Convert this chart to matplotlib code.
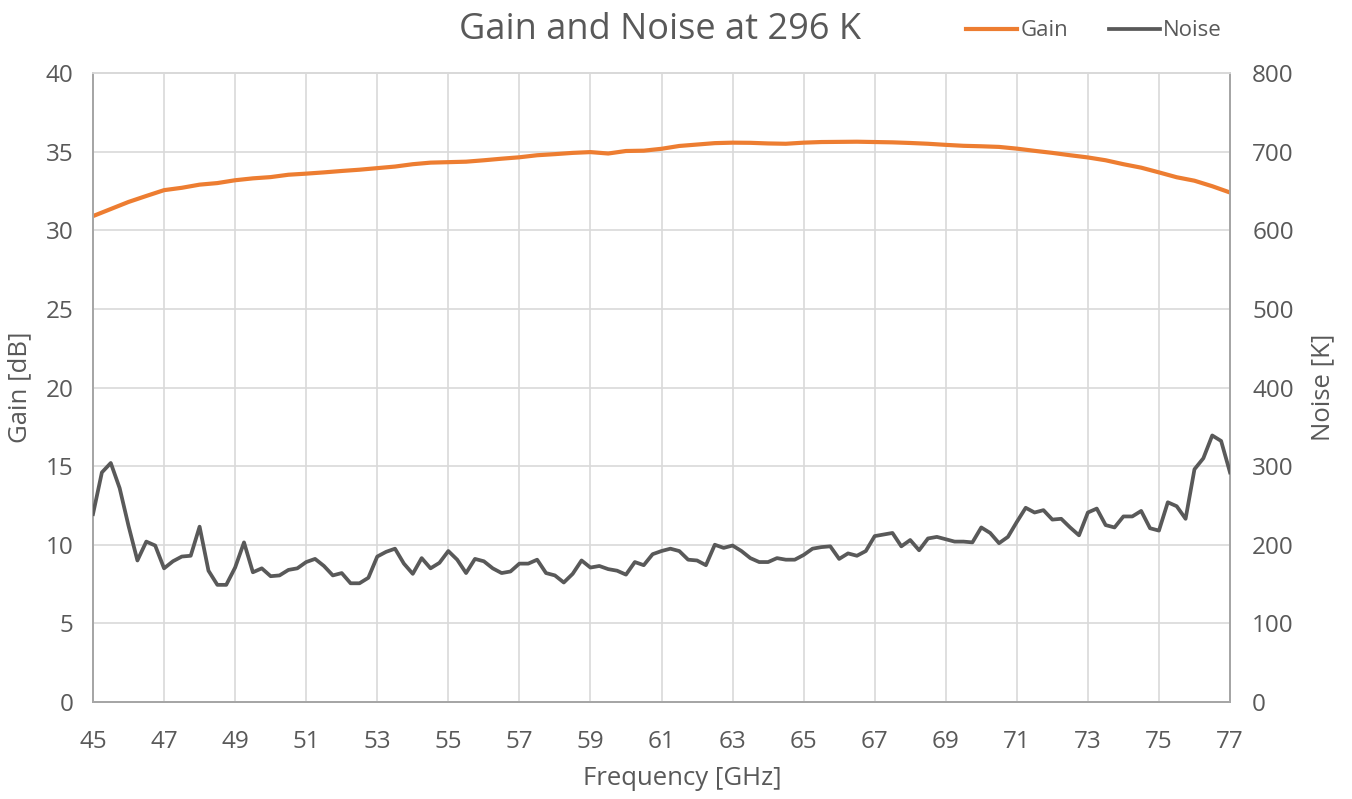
import numpy as np
import matplotlib
matplotlib.use("Agg")
import matplotlib.pyplot as plt

# --- data ---
gain_freq = np.arange(45.0, 77.01, 0.5)
gain_db = [30.9, 31.35, 31.8, 32.18, 32.55, 32.7, 32.9, 33.0, 33.18, 33.3,
           33.38, 33.53, 33.6, 33.68, 33.77, 33.85, 33.95, 34.05, 34.2, 34.3,
           34.33, 34.36, 34.45, 34.55, 34.64, 34.77, 34.84, 34.92, 34.97, 34.88,
           35.04, 35.06, 35.18, 35.36, 35.45, 35.54, 35.57, 35.56, 35.52, 35.5,
           35.57, 35.61, 35.62, 35.63, 35.61, 35.59, 35.55, 35.5, 35.43, 35.37,
           35.34, 35.3, 35.19, 35.05, 34.92, 34.77, 34.63, 34.45, 34.2, 33.98,
           33.68, 33.37, 33.15, 32.8, 32.4]

noise_freq = np.arange(45.0, 77.01, 0.25)
noise_k = [239, 292, 304, 272, 224, 180, 204, 199, 170, 179, 185, 186, 223,
           167, 149, 149, 171, 203, 165, 170, 160, 161, 168, 170, 178, 182,
           173, 161, 164, 151, 151, 158, 185,
           191, 195, 176, 163, 183, 170, 177, 192, 181, 164, 182, 179, 170,
           164, 166, 176, 176, 181, 164, 161, 152, 163, 180, 171, 173, 169,
           167, 162, 178, 174, 188, 192,
           195, 192, 181, 180, 174, 200, 196, 199, 192, 183, 178, 178, 183,
           181, 181, 187, 195, 197, 198, 182, 189, 186, 192, 211, 213, 215,
           198, 206, 193, 208, 210, 207, 204,
           204, 203, 222, 215, 202, 210, 229, 247, 241, 244, 232, 233, 222,
           212, 241, 246, 225, 222, 236, 236, 243, 221, 218, 254, 249, 233,
           296, 310, 339, 332, 292]

x_ticks = np.arange(45, 78, 2)

TXT = "#595959"
plt.rcParams["font.family"] = ["Open Sans", "DejaVu Sans"]

fig = plt.figure(figsize=(13.52, 7.99), dpi=100)
ax = fig.add_axes([93 / 1352, 1 - 702 / 799, (1230 - 93) / 1352, (702 - 73) / 799])
ax2 = ax.twinx()

g_line, = ax.plot(gain_freq, gain_db, color="#ED7D31", lw=3.0, label="Gain", zorder=3)
n_line, = ax2.plot(noise_freq, noise_k, color="#595959", lw=2.7, label="Noise", zorder=3)

ax.set_xlim(45, 77)
ax.set_ylim(0, 40)
ax2.set_ylim(0, 800)
ax.set_xticks(x_ticks)
ax.set_yticks(np.arange(0, 41, 5))
ax2.set_yticks(np.arange(0, 801, 100))

ax.grid(True, color="#D9D9D9", lw=1.2)
ax.set_axisbelow(True)
for a in (ax, ax2):
    for s in a.spines.values():
        s.set_color("#A6A6A6")
        s.set_linewidth(1.3)
    a.spines["top"].set_color("#D9D9D9")
    a.tick_params(length=0, labelsize=17.5, colors=TXT)
ax.tick_params(axis="x", pad=20)
ax.tick_params(axis="y", pad=14)
ax2.tick_params(axis="y", pad=16)

ax.set_xlabel("Frequency [GHz]", fontsize=18.5, color=TXT)
ax.xaxis.set_label_coords((682 - 93) / 1137, -64 / 629)
ax.set_ylabel("Gain [dB]", fontsize=18.5, color=TXT, labelpad=10)
ax2.set_ylabel("Noise [K]", fontsize=18.5, color=TXT, labelpad=12)

fig.text(660 / 1352, 1 - 30 / 799, "Gain and Noise at 296 K", fontsize=26,
         color=TXT, ha="center", va="center")
fig.legend(handles=[g_line, n_line], loc="center", bbox_to_anchor=(1094 / 1352, 1 - 31 / 799),
           ncol=2, frameon=False, fontsize=16, labelcolor=TXT, handlelength=2.3,
           handletextpad=0.15, columnspacing=1.8)

fig.savefig("out.png", dpi=100)
